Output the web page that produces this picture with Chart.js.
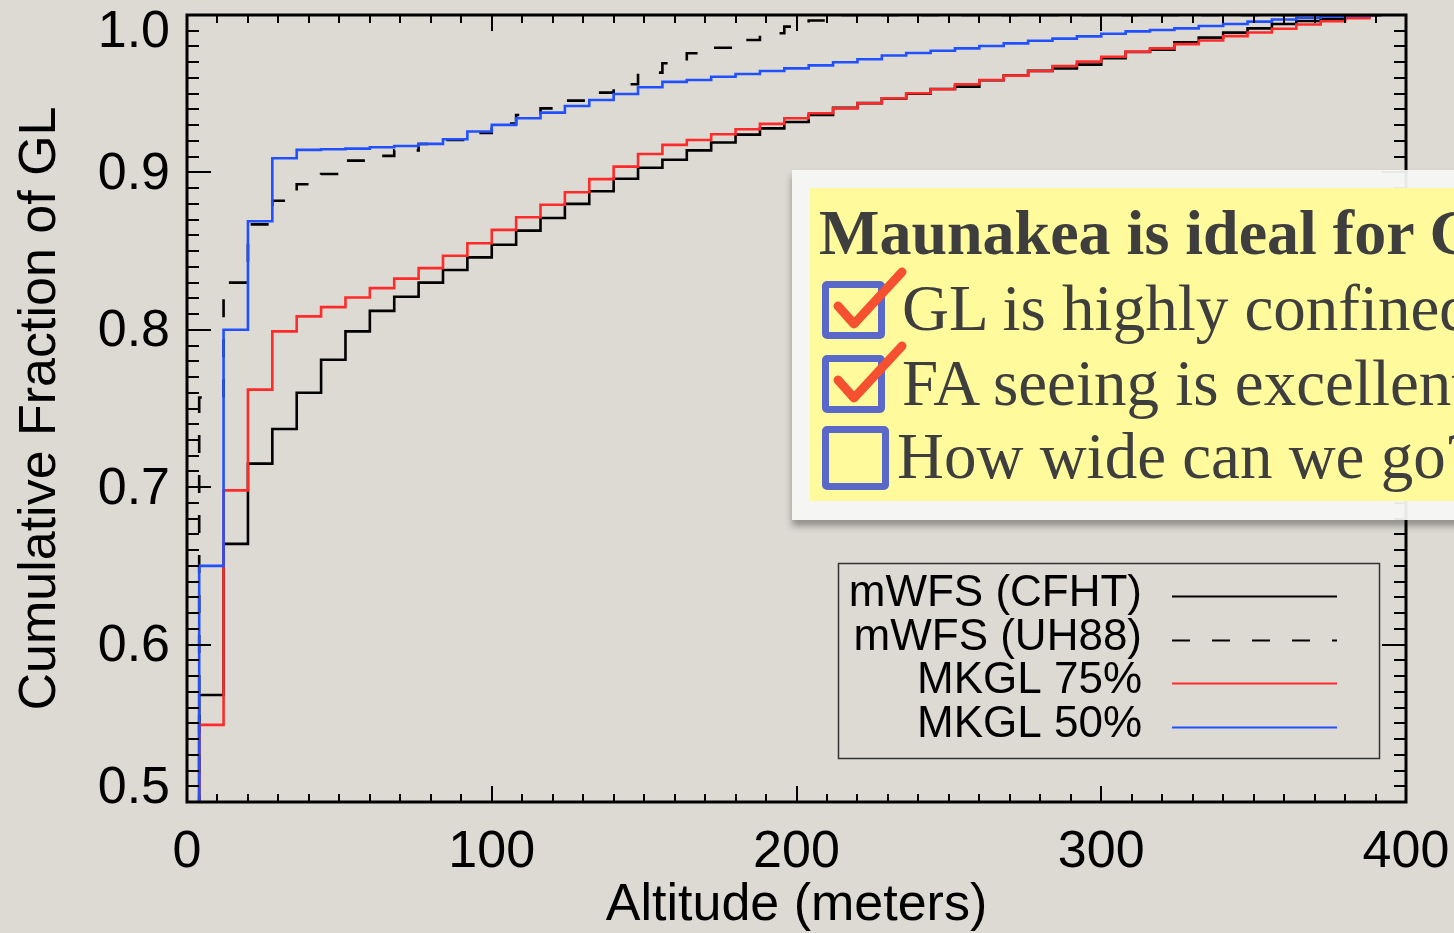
<!DOCTYPE html>
<html>
<head>
<meta charset="utf-8">
<script src="https://cdn.jsdelivr.net/npm/chart.js@4"></script>
<style>
  html, body { margin: 0; padding: 0; overflow: hidden; }
  body { width: 1454px; height: 933px; background: #dddad4; position: relative; font-family: "Liberation Sans", Arial, sans-serif; }
  #wrap { position: absolute; left: 0; top: 0; width: 1454px; height: 933px; }
  .note { position: absolute; left: 792px; top: 170px; width: 720px; height: 350px; background: rgba(246,246,244,0.94);
          box-shadow: 0 6px 7px rgba(0,0,0,0.35); }
  .paper { position: absolute; left: 18px; top: 18px; width: 700px; height: 313px; background: #fffb9c; color: #3e3e3e;
           font-family: "Liberation Serif", "Times New Roman", serif; white-space: nowrap; overflow: hidden; }
  .paper .row { position: absolute; left: 0; font-size: 65px; line-height: 1; }
  .paper .head { top: 13px; left: 9px; font-weight: bold; font-size: 64px; }
  .box { position: absolute; left: 12px; width: 49px; height: 44px; border: 7px solid #5a69c9; border-radius: 5px; }
  .check { position: absolute; left: 20px; width: 80px; height: 66px; }
</style>
</head>
<body>
<div id="wrap"><canvas id="glChart"></canvas></div>
<div class="note">
  <div class="paper">
    <div class="row head">Maunakea is ideal for GLAO</div>
    <div class="box" style="top:93px"></div>
    <svg class="check" style="top:78px" viewBox="0 0 80 66"><path d="M8 40 L24 58 L72 6" fill="none" stroke="#f5502f" stroke-width="9" stroke-linecap="round" stroke-linejoin="round"/></svg>
    <div class="row" style="left:92px; top:88px">GL is highly confined</div>
    <div class="box" style="top:167px"></div>
    <svg class="check" style="top:152px" viewBox="0 0 80 66"><path d="M8 40 L24 58 L72 6" fill="none" stroke="#f5502f" stroke-width="9" stroke-linecap="round" stroke-linejoin="round"/></svg>
    <div class="row" style="left:92px; top:163px">FA seeing is excellent</div>
    <div class="box" style="top:238px; width:53px; height:50px"></div>
    <div class="row" style="left:87px; top:236px">How wide can we go?</div>
  </div>
</div>
<script>
// bin centres (meters) shared by all four curves
const altitude = [0, 8, 16, 24, 32, 40, 48, 56, 64, 72, 80, 88, 96, 104, 112, 120, 128, 136, 144, 152,
    160, 168, 176, 184, 192, 200, 208, 216, 224, 232, 240, 248, 256, 264, 272, 280, 288, 296, 304, 312,
    320, 328, 336, 344, 352, 360, 368, 376, 384, 392];

const mwfsCFHT = [0.45, 0.568, 0.664, 0.715, 0.737, 0.760, 0.781, 0.799, 0.812, 0.821,
    0.830, 0.838, 0.846, 0.854, 0.863, 0.871, 0.880, 0.888, 0.896, 0.903,
    0.908, 0.914, 0.919, 0.924, 0.928, 0.932, 0.9365, 0.941, 0.944, 0.947,
    0.950, 0.953, 0.9545, 0.9585, 0.9615, 0.9645, 0.966, 0.9685, 0.9725, 0.9765,
    0.978, 0.9826, 0.9856, 0.9888, 0.9915, 0.9943, 0.9962, 0.9975, 0.999, 1.0];

const mwfsUH88 = [0.45, 0.757, 0.830, 0.867, 0.882, 0.8925, 0.899, 0.9075, 0.9105, 0.914,
    0.918, 0.9206, 0.925, 0.931, 0.9365, 0.9407, 0.9456, 0.9507, 0.956, 0.9634,
    0.9693, 0.9757, 0.9792, 0.9841, 0.9884, 0.9926, 0.9965, 1.0, 1.0, 1.0,
    1.0, 1.0, 1.0, 1.0, 1.0, 1.0, 1.0, 1.0, 1.0, 1.0,
    1.0, 1.0, 1.0, 1.0, 1.0, 1.0, 1.0, 1.0, 1.0, 1.0];

const mkgl75 = [0.45, 0.549, 0.698, 0.762, 0.799, 0.8085, 0.8144, 0.8205, 0.8265, 0.8325,
    0.8392, 0.847, 0.855, 0.8635, 0.8715, 0.8794, 0.8874, 0.8957, 0.9037, 0.9117,
    0.9175, 0.9206, 0.9242, 0.9274, 0.9308, 0.9344, 0.9376, 0.9407, 0.9439, 0.9471,
    0.9503, 0.9528, 0.956, 0.9587, 0.9615, 0.9644, 0.9676, 0.9704, 0.9735, 0.9767,
    0.9788, 0.9815, 0.9838, 0.9866, 0.9889, 0.9913, 0.994, 0.996, 0.998, 1.0];

const mkgl50 = [0.45, 0.650, 0.800, 0.869, 0.909, 0.9143, 0.9147, 0.9151, 0.916, 0.9168,
    0.9181, 0.9211, 0.926, 0.9302, 0.9344, 0.938, 0.9422, 0.946, 0.9498, 0.9541,
    0.9575, 0.9587, 0.9608, 0.9625, 0.9644, 0.9661, 0.968, 0.970, 0.9719, 0.9743,
    0.9759, 0.9773, 0.9788, 0.9803, 0.982, 0.9836, 0.985, 0.9864, 0.9881, 0.9896,
    0.9905, 0.9915, 0.993, 0.9943, 0.9958, 0.9971, 0.9983, 0.999, 0.9995, 1.0];

const seriesLabels = ["mWFS (CFHT)", "mWFS (UH88)", "MKGL 75%", "MKGL 50%"];
const xTickLabels = [0, 100, 200, 300, 400];
const yTickLabels = [0.5, 0.6, 0.7, 0.8, 0.9, 1.0];

const FONT = '"Liberation Sans", Arial, sans-serif';

function points(values) {
    return altitude.map((a, i) => ({ x: a, y: values[i] }));
}

// IDL-style frame: box on four sides with inward ticks, y labels, legend
const idlFrame = {
    id: "idlFrame",
    afterDatasetsDraw(chart) {
        const { ctx, chartArea: a, scales } = chart;
        const x = scales.x, y = scales.y;
        ctx.save();
        ctx.strokeStyle = "#000";
        ctx.lineWidth = 2;
        ctx.beginPath();
        for (let v = 0; v <= 400; v += 10) {
            const px = Math.round(x.getPixelForValue(v));
            const len = v % 100 === 0 ? 16 : 8;
            ctx.moveTo(px, a.bottom); ctx.lineTo(px, a.bottom - len);
            ctx.moveTo(px, a.top); ctx.lineTo(px, a.top + len);
        }
        for (let i = 0; i <= 50; i++) {
            const py = Math.round(y.getPixelForValue(0.5 + i / 100));
            const len = i % 10 === 0 ? 24 : 12;
            ctx.moveTo(a.left, py); ctx.lineTo(a.left + len, py);
            ctx.moveTo(a.right, py); ctx.lineTo(a.right - len, py);
        }
        ctx.stroke();
        ctx.lineWidth = 3;
        ctx.strokeRect(a.left, a.top, a.right - a.left, a.bottom - a.top);

        // y tick labels, end labels kept inside the frame height
        ctx.fillStyle = "#000";
        ctx.font = "52px " + FONT;
        ctx.textAlign = "right";
        ctx.textBaseline = "middle";
        yTickLabels.forEach((v) => {
            let py = y.getPixelForValue(v);
            py = Math.min(Math.max(py, a.top + 16), a.bottom - 15);
            ctx.fillText(v.toFixed(1), a.left - 17, py + 2);
        });

        // legend box
        const lx = 838, ly = 563, lw = 541, lh = 195;
        ctx.lineWidth = 1.5;
        ctx.strokeStyle = "#333";
        ctx.strokeRect(lx + 0.5, ly + 0.5, lw, lh);
        ctx.font = "44px " + FONT;
        ctx.textAlign = "right";
        ctx.textBaseline = "middle";
        chart.data.datasets.forEach((ds, i) => {
            const rowY = ly + 31 + i * 43.5;
            ctx.fillStyle = "#000";
            ctx.fillText(ds.label, 1142, rowY);
            ctx.strokeStyle = ds.borderColor;
            ctx.lineWidth = 2;
            ctx.setLineDash(ds.borderDash || []);
            ctx.beginPath();
            ctx.moveTo(1172, Math.round(rowY + 2) + 0.5);
            ctx.lineTo(1337, Math.round(rowY + 2) + 0.5);
            ctx.stroke();
            ctx.setLineDash([]);
        });
        ctx.restore();
    },
};

const ctx = document.getElementById("glChart").getContext("2d");
const lineStyle = { pointRadius: 0, borderWidth: 2.6, stepped: "middle", fill: false,
    borderJoinStyle: "miter", borderCapStyle: "butt" };

window.glChart = new Chart(ctx, {
    type: "line",
    data: {
        datasets: [
            { ...lineStyle, label: seriesLabels[0], data: points(mwfsCFHT), borderColor: "#000000", order: 3 },
            { ...lineStyle, label: seriesLabels[1], data: points(mwfsUH88), borderColor: "#000000", borderDash: [18, 22], order: 2 },
            { ...lineStyle, label: seriesLabels[2], data: points(mkgl75), borderColor: "#ff2a2a", order: 1 },
            { ...lineStyle, label: seriesLabels[3], data: points(mkgl50), borderColor: "#2151ff", order: 0 },
        ],
    },
    options: {
        responsive: true,
        maintainAspectRatio: false,
        animation: false,
        layout: { padding: { top: 15, right: 48, left: 0, bottom: 0 } },
        plugins: { legend: { display: false }, tooltip: { enabled: false } },
        scales: {
            x: {
                type: "linear",
                min: 0,
                max: 400,
                afterBuildTicks: (s) => { s.ticks = xTickLabels.map((v) => ({ value: v })); },
                afterFit: (s) => { s.height = 131; s.paddingLeft = 0; s.paddingRight = 0; },
                grid: { display: false, drawTicks: false },
                border: { display: false },
                ticks: { font: { size: 52, family: FONT }, color: "#000", padding: 19, maxRotation: 0, autoSkip: false },
                title: { display: true, text: "Altitude (meters)", font: { size: 52, family: FONT }, color: "#000",
                    padding: { top: 0, bottom: -4 } },
            },
            y: {
                type: "linear",
                min: 0.5,
                max: 1.0,
                afterBuildTicks: (s) => { s.ticks = yTickLabels.map((v) => ({ value: v })); },
                afterFit: (s) => { s.width = 187; s.paddingTop = 0; s.paddingBottom = 0; },
                grid: { display: false, drawTicks: false },
                border: { display: false },
                ticks: { display: false },
                title: { display: true, text: "Cumulative Fraction of GL", font: { size: 52, family: FONT }, color: "#000",
                    padding: { top: 9, bottom: 0 } },
            },
        },
    },
    plugins: [idlFrame],
});
</script>
</body>
</html>
